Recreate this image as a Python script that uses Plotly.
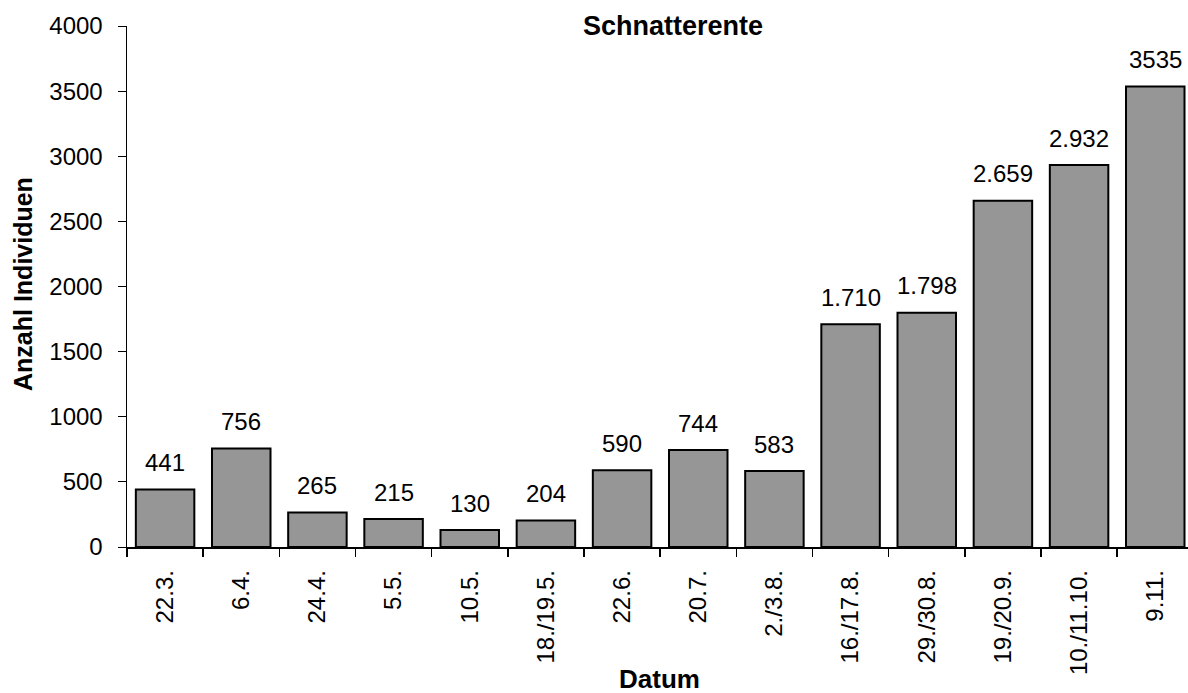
import plotly.graph_objects as go

categories = ["22.3.", "6.4.", "24.4.", "5.5.", "10.5.", "18./19.5.", "22.6.", "20.7.",
              "2./3.8.", "16./17.8.", "29./30.8.", "19./20.9.", "10./11.10.", "9.11."]
values = [441, 756, 265, 215, 130, 204, 590, 744, 583, 1710, 1798, 2659, 2932, 3535]
value_labels = ["441", "756", "265", "215", "130", "204", "590", "744", "583",
                "1.710", "1.798", "2.659", "2.932", "3535"]
y_ticks = [0, 500, 1000, 1500, 2000, 2500, 3000, 3500, 4000]

FONT = "Liberation Sans, Arial, sans-serif"
W, H = 1188, 693
ML, MR, MT, MB = 127, 0, 26, 146
PW = W - ML - MR
PH = H - MT - MB

fig = go.Figure()
fig.add_trace(go.Bar(
    x=categories, y=values,
    marker=dict(color="#969696", line=dict(color="black", width=2)),
    hoverinfo="skip",
))

for c, v, t in zip(categories, values, value_labels):
    fig.add_annotation(x=c, y=v, text=t, showarrow=False, yshift=27,
                       font=dict(family=FONT, size=24, color="black"))

# chart title
fig.add_annotation(text="<b>Schnatterente</b>", xref="paper", yref="paper",
                   x=(673 - ML) / PW, y=1 - (26 - MT) / PH, showarrow=False,
                   xanchor="center", yanchor="middle",
                   font=dict(family=FONT, size=27, color="black"))
# x axis title
fig.add_annotation(text="<b>Datum</b>", xref="paper", yref="paper",
                   x=(659 - ML) / PW, y=1 - (679 - MT) / PH, showarrow=False,
                   xanchor="center", yanchor="middle",
                   font=dict(family=FONT, size=26, color="black"))
# y axis title
fig.add_annotation(text="<b>Anzahl Individuen</b>", xref="paper", yref="paper",
                   x=(23 - ML) / PW, y=1 - (284 - MT) / PH, showarrow=False,
                   xanchor="center", yanchor="middle", textangle=-90,
                   font=dict(family=FONT, size=25, color="black"))

fig.update_layout(
    width=W, height=H,
    margin=dict(l=ML, r=MR, t=MT, b=MB, autoexpand=False),
    plot_bgcolor="white", paper_bgcolor="white",
    bargap=0.232,
    showlegend=False,
    font=dict(family=FONT, size=24, color="black"),
)
fig.update_xaxes(
    type="category",
    range=[-0.5, 13.43],
    tickson="boundaries",
    ticks="outside", ticklen=8, tickwidth=1.5, tickcolor="black",
    tickangle=-90,
    tickfont=dict(family=FONT, size=24, color="black"),
    showline=True, linecolor="black", linewidth=1.5,
    showgrid=False,
    ticklabelstandoff=12,
    automargin=False,
)
fig.update_yaxes(
    range=[0, 4000],
    tickvals=y_ticks,
    ticks="outside", ticklen=8, tickwidth=1, tickcolor="black",
    tickfont=dict(family=FONT, size=24, color="black"),
    showline=True, linecolor="black", linewidth=1.5,
    showgrid=False, zeroline=False,
    ticklabelstandoff=10,
    automargin=False,
)

fig.write_html("out.html",
               config={"displayModeBar": False, "staticPlot": True},
               post_script="document.body.style.margin='0';document.body.style.overflow='hidden';")
